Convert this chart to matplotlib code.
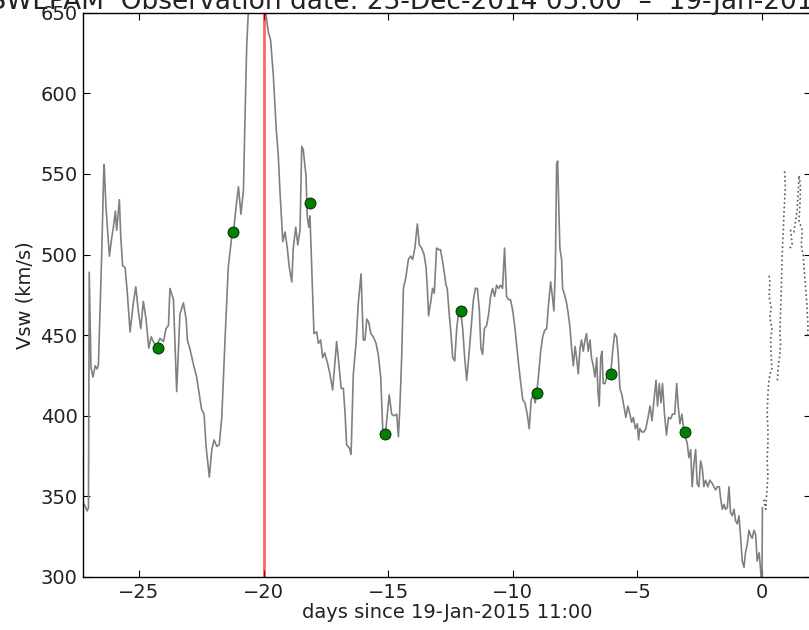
import matplotlib
matplotlib.use("Agg")
import matplotlib.pyplot as plt

# solar wind speed, days since 19-Jan-2015 11:00
days = [-27.20, -27.08, -27.03, -27.00, -26.93, -26.85, -26.76, -26.68, -26.63,
        -26.50, -26.42, -26.40, -26.33, -26.19, -26.10, -26.03, -25.95, -25.90,
        -25.79, -25.74, -25.66, -25.56, -25.47, -25.36, -25.23, -25.13, -25.03,
        -24.93, -24.83, -24.72, -24.61, -24.51, -24.43, -24.32, -24.16, -24.02,
        -23.92, -23.82, -23.76, -23.62, -23.49, -23.36, -23.22, -23.11, -23.06,
        -22.95, -22.82, -22.69, -22.58, -22.49, -22.39, -22.31, -22.18, -22.08,
        -21.99, -21.88, -21.78, -21.68, -21.55, -21.42, -21.28, -21.21, -21.11,
        -21.01, -20.91, -20.81, -20.75, -20.68, -20.61, -20.45, -20.20, -20.00,
        -19.94, -19.81, -19.72, -19.61, -19.50, -19.41, -19.34, -19.23, -19.14,
        -19.05, -18.97, -18.87, -18.81, -18.71, -18.63, -18.54, -18.47, -18.41,
        -18.30, -18.25, -18.19, -18.14, -18.07, -17.98, -17.87, -17.80, -17.71,
        -17.63, -17.55, -17.44, -17.34, -17.23, -17.14, -17.07, -16.96, -16.89,
        -16.80, -16.73, -16.67, -16.56, -16.49, -16.40, -16.29, -16.20, -16.09,
        -16.00, -15.93, -15.86, -15.78, -15.70, -15.60, -15.49, -15.40, -15.30,
        -15.22, -15.11, -15.06, -14.96, -14.86, -14.77, -14.66, -14.59, -14.53,
        -14.46, -14.39, -14.29, -14.19, -14.10, -14.02, -13.93, -13.83, -13.75,
        -13.66, -13.56, -13.48, -13.43, -13.38, -13.30, -13.22, -13.15, -13.06,
        -12.96, -12.90, -12.81, -12.76, -12.68, -12.63, -12.55, -12.48, -12.41,
        -12.33, -12.25, -12.17, -12.09, -12.01, -11.93, -11.85, -11.77, -11.69,
        -11.58, -11.50, -11.42, -11.34, -11.28, -11.21, -11.14, -11.05, -10.97,
        -10.89, -10.81, -10.73, -10.65, -10.57, -10.49, -10.41, -10.33, -10.25,
        -10.17, -10.09, -10.00, -9.91, -9.82, -9.71, -9.60, -9.51, -9.42, -9.34,
        -9.26, -9.18, -9.10, -9.04, -8.96, -8.88, -8.80, -8.72, -8.64, -8.56,
        -8.48, -8.41, -8.35, -8.29, -8.24, -8.20, -8.16, -8.11, -8.04, -8.00,
        -7.92, -7.84, -7.77, -7.70, -7.64, -7.57, -7.50, -7.44, -7.37, -7.30,
        -7.24, -7.17, -7.10, -7.04, -6.97, -6.90, -6.84, -6.77, -6.70, -6.63,
        -6.58, -6.53, -6.47, -6.42, -6.37, -6.30, -6.23, -6.17, -6.07, -5.99,
        -5.91, -5.83, -5.76, -5.70, -5.62, -5.54, -5.46, -5.38, -5.30, -5.23,
        -5.16, -5.08, -5.00, -4.95, -4.90, -4.82, -4.73, -4.66, -4.57, -4.49,
        -4.41, -4.33, -4.25, -4.19, -4.12, -4.05, -3.99, -3.91, -3.83, -3.75,
        -3.67, -3.59, -3.50, -3.42, -3.36, -3.29, -3.21, -3.13, -3.00, -2.93,
        -2.86, -2.80, -2.73, -2.66, -2.60, -2.53, -2.46, -2.39, -2.33, -2.26,
        -2.17, -2.09, -1.99, -1.93, -1.86, -1.79, -1.71, -1.66, -1.59, -1.52,
        -1.46, -1.39, -1.32, -1.26, -1.19, -1.12, -1.06, -0.99, -0.92, -0.86,
        -0.79, -0.72, -0.66, -0.59, -0.52, -0.46, -0.39, -0.32, -0.25, -0.19,
        -0.11, -0.05, 0.00, 0.02]
vsw = [345, 341, 343, 489, 430, 424, 431, 429, 432,
       500, 550, 556, 530, 499, 510, 517, 527, 515,
       534, 513, 493, 492, 476, 452, 470, 480, 465,
       454, 471, 460, 442, 449, 446, 443, 448, 446,
       454, 456, 479, 472, 415, 463, 470, 460, 447,
       441, 432, 424, 413, 404, 401, 381, 362, 379,
       385, 381, 382, 399, 447, 492, 511, 514, 529,
       542, 525, 540, 583, 629, 652, 690, 700, 670,
       652, 638, 633, 611, 579, 561, 538, 508, 514,
       504, 492, 483, 504, 517, 506, 515, 567, 565,
       549, 524, 517, 524, 492, 451, 452, 445, 447,
       436, 439, 433, 426, 416, 433, 446, 429, 417,
       417, 401, 382, 380, 376, 426, 445, 470, 488,
       447, 447, 460, 458, 451, 449, 445, 438, 424,
       392, 389, 397, 413, 401, 400, 401, 387, 406,
       436, 479, 486, 497, 499, 497, 504, 519, 506,
       504, 500, 492, 479, 462, 470, 479, 476, 504,
       503, 503, 495, 490, 481, 479, 463, 451, 436,
       434, 454, 465, 465, 454, 436, 422, 436, 451,
       472, 479, 479, 465, 442, 438, 454, 456, 463,
       474, 479, 474, 481, 479, 481, 479, 504, 474,
       472, 472, 465, 454, 440, 424, 410, 408, 401, 392,
       410, 413, 408, 414, 426, 440, 449, 453, 454, 470,
       483, 474, 465, 492, 556, 558, 533, 504, 497, 479,
       475, 470, 463, 454, 442, 431, 443, 436, 426, 442,
       447, 440, 447, 451, 440, 447, 436, 431, 424, 436,
       415, 406, 436, 440, 420, 420, 424, 426, 426, 440,
       451, 449, 436, 417, 413, 406, 399, 406, 401, 396,
       399, 392, 395, 385, 392, 390, 390, 392, 399, 406,
       397, 410, 422, 406, 420, 408, 420, 401, 388, 399,
       398, 401, 401, 420, 406, 395, 401, 390, 383, 374,
       379, 356, 370, 379, 358, 356, 372, 367, 356, 360,
       356, 360, 358, 356, 354, 356, 356, 349, 342, 345,
       342, 343, 356, 340, 338, 342, 335, 333, 338, 326,
       310, 306, 315, 320, 329, 326, 324, 329, 326, 310,
       315, 304, 290, 343]

# 3-day markers
mark_days = [-24.22, -21.21, -18.14, -15.12, -12.09, -9.04, -6.07, -3.09]
mark_vsw = [442, 514, 532, 389, 465, 414, 426, 390]

# dotted traces after t=0
dot_a_days = [0.08, 0.15, 0.21, 0.24, 0.21, 0.24, 0.24, 0.21, 0.24, 0.27, 0.32,
              0.40, 0.37, 0.35, 0.40, 0.32, 0.37, 0.29, 0.32, 0.28]
dot_a_vsw = [348, 342, 356, 363, 372, 383, 392, 401, 413, 420, 426,
             429, 438, 447, 454, 461, 467, 474, 483, 488]
dot_b_days = [0.62, 0.66, 0.72, 0.75, 0.72, 0.75, 0.78, 0.80, 0.83, 0.86, 0.88,
              0.91, 0.94, 0.91]
dot_b_vsw = [422, 431, 438, 445, 451, 465, 479, 492, 506, 515, 524,
             533, 542, 552]
dot_c_days = [1.12, 1.22, 1.15, 1.28, 1.42, 1.49, 1.55, 1.53, 1.49, 1.62, 1.58,
              1.66, 1.69, 1.80, 1.85, 1.83]
dot_c_vsw = [504, 506, 515, 514, 528, 549, 542, 533, 521, 515, 506,
             499, 492, 470, 455, 449]

event_day = -20.0

title_head = 'ACE/SWEPAM  '
title_tail = 'Observation date: 23-Dec-2014 05:00  \u2013  19-Jan-2015 11:00'

fig = plt.figure(figsize=(8.09, 6.30), dpi=100)
ax = fig.add_axes([83 / 809, 53 / 630, 728 / 809, 564.3 / 630])

ax.plot(days, vsw, color='gray', lw=1.2)
for dx, dy in [(dot_a_days, dot_a_vsw), (dot_b_days, dot_b_vsw), (dot_c_days, dot_c_vsw)]:
    ax.plot(dx, dy, color='0.35', ls=':', lw=1.2)
ax.axvline(event_day, color='r', alpha=0.6, lw=2)
ax.plot(mark_days, mark_vsw, 'o', color='green', ms=8, mec='k', mew=0.5)

ax.set_xlim(-27.25, 1.97)
ax.set_ylim(300, 650)
ax.set_xticks([-25, -20, -15, -10, -5, 0])
ax.set_yticks(range(300, 651, 50))
ax.tick_params(direction='in', top=True, right=True, length=5, width=0.8,
               labelsize=14, pad=4, labelcolor='#222222')
for s in ax.spines.values():
    s.set_linewidth(1.0)

ax.set_xlabel('days since 19-Jan-2015 11:00', fontsize=14, labelpad=1, color='#222222')
ax.set_ylabel('Vsw (km/s)', fontsize=14, labelpad=4, color='#222222')

# title: place so that "Observation" starts near x = 121 px
renderer = fig.canvas.get_renderer()
tmp = fig.text(0, 0, title_head, fontsize=19)
head_w = tmp.get_window_extent(renderer).width
tmp.remove()
fig.text((121 - head_w) / 809, 1 - 9 / 630, title_head + title_tail,
         fontsize=19, ha='left', va='baseline', color='#222222')

fig.savefig('out.png', dpi=100)
